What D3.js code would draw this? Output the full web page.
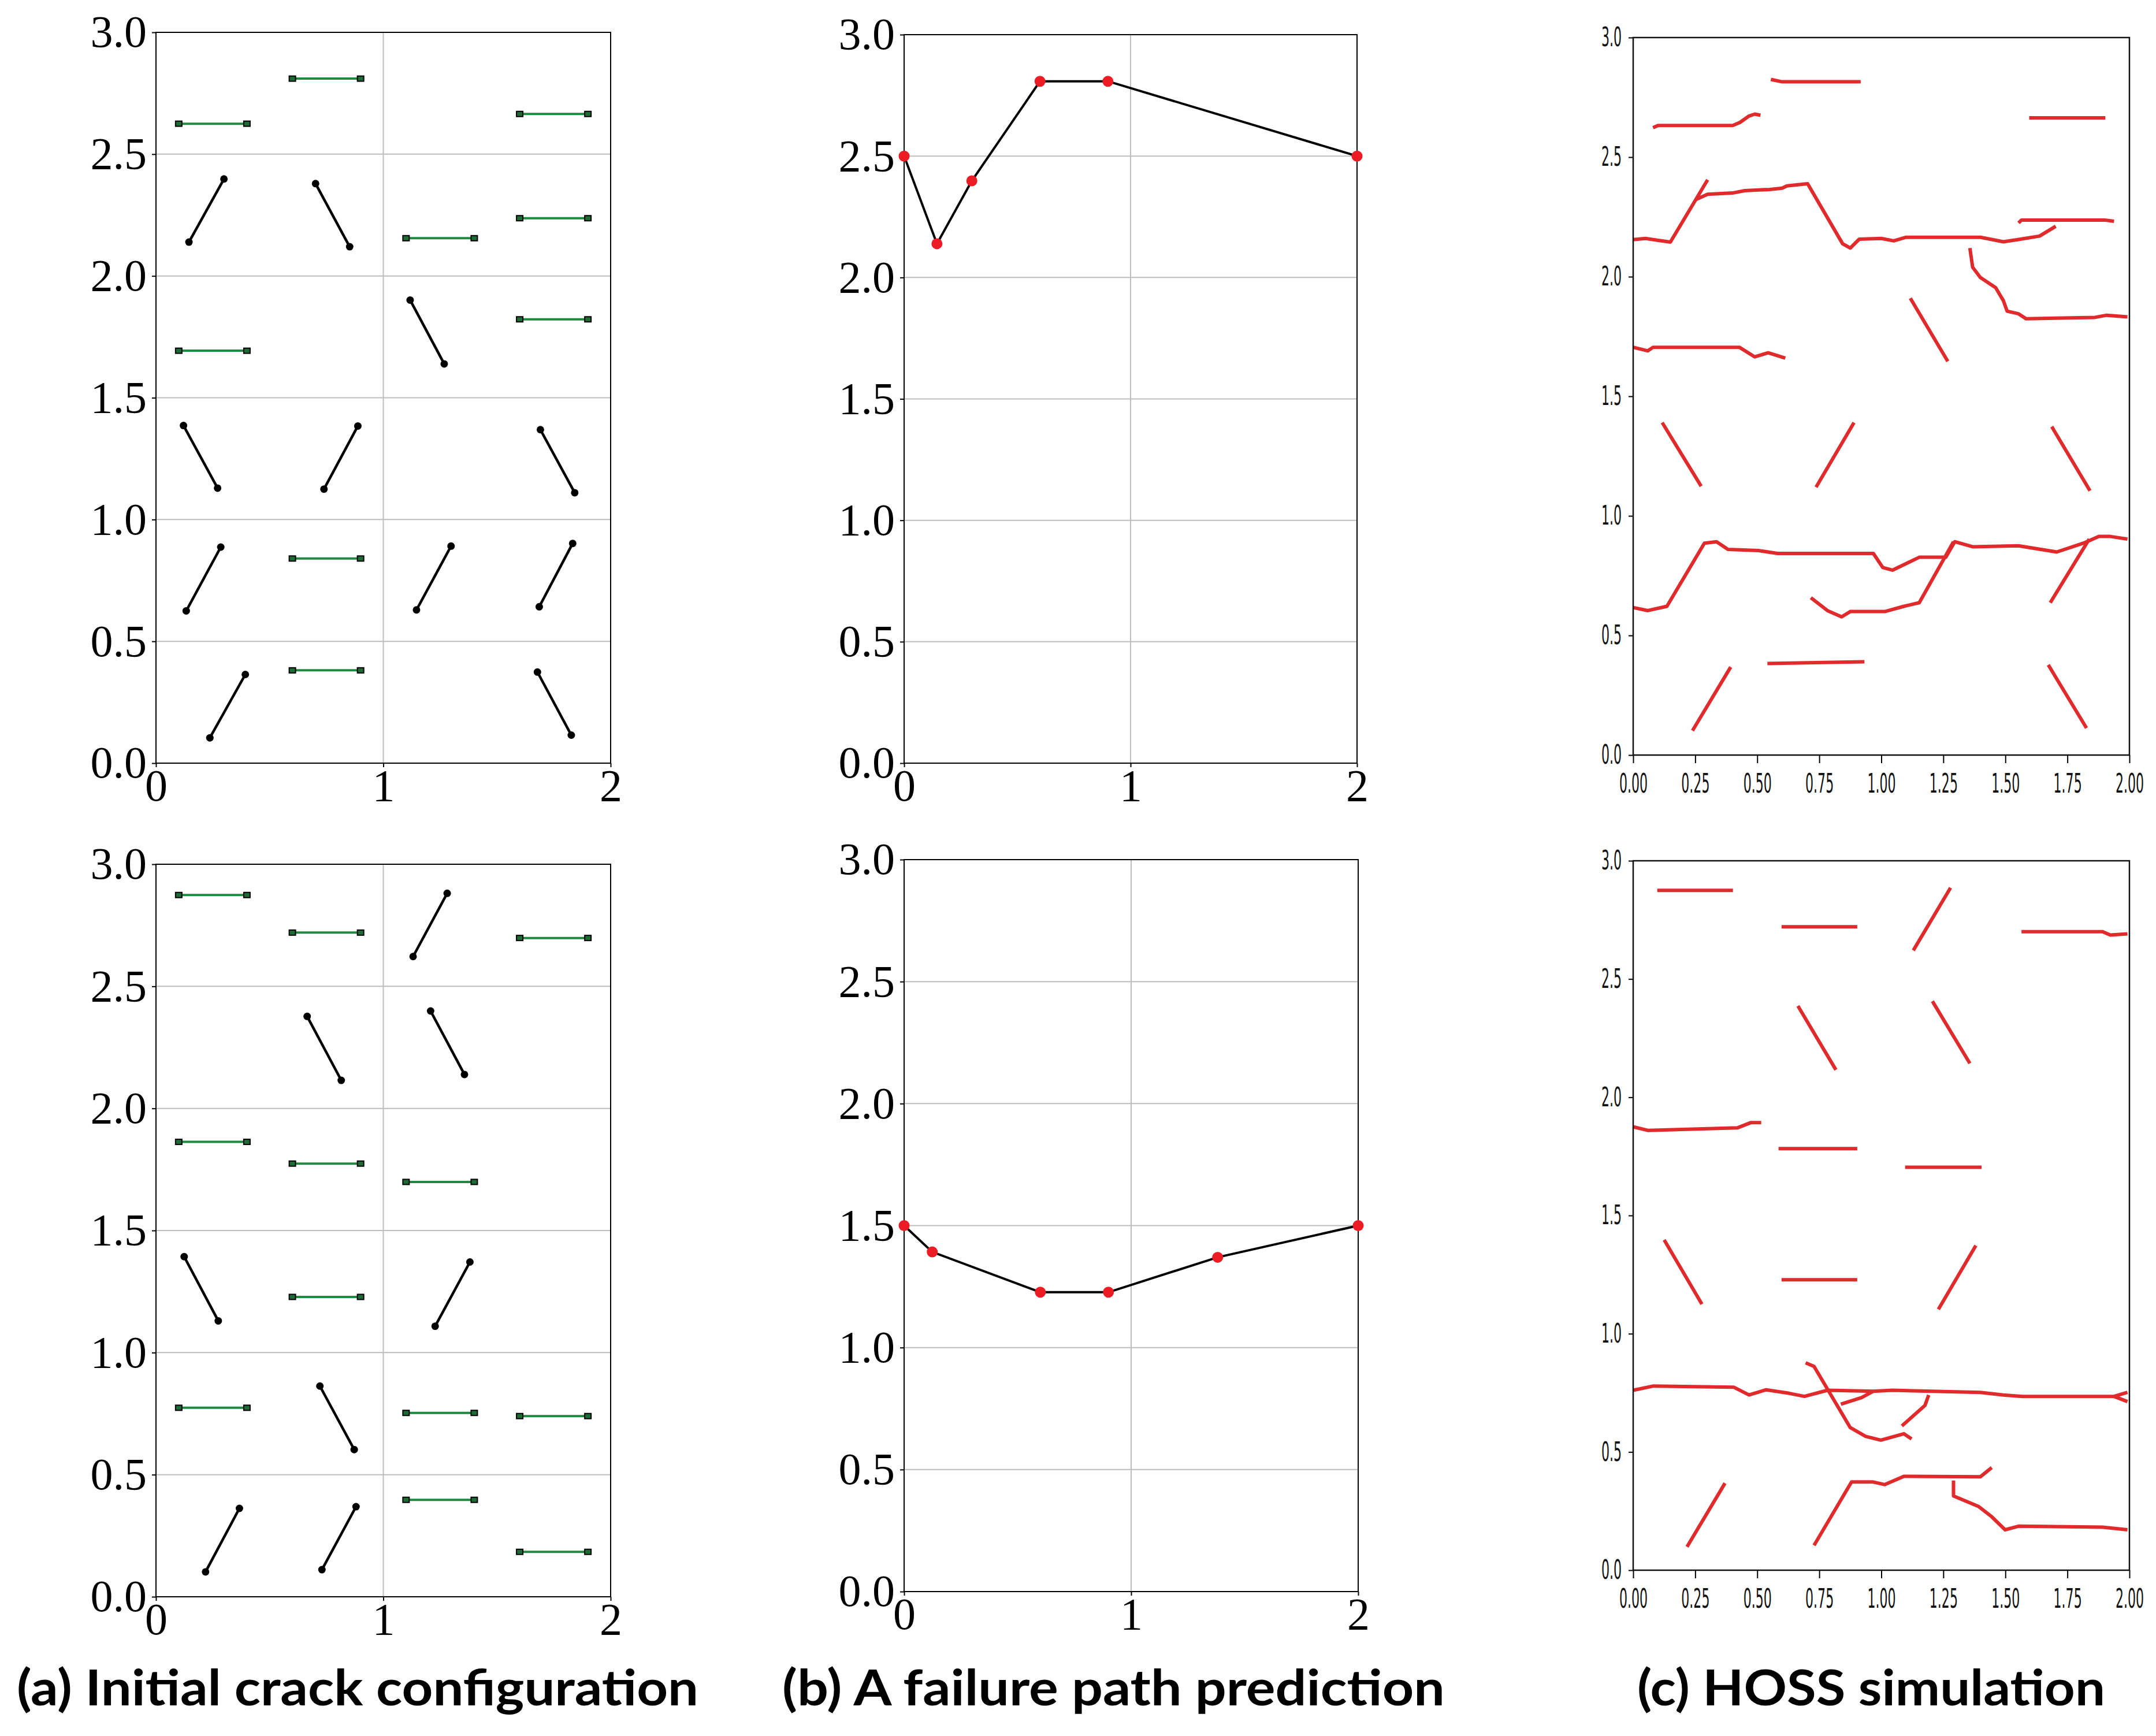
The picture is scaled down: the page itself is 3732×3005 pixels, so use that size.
<!DOCTYPE html>
<html>
<head>
<meta charset="utf-8">
<script src="https://cdn.jsdelivr.net/npm/d3@7"></script>
<style>
  body { margin: 0; background: #fff; }
</style>
</head>
<body>
<div id="content"></div>
<script>
var W = 3732, H = 3005;
var svg = d3.select('div#content').append('svg')
  .attr('width', W)
  .attr('height', H);
svg.append('rect').attr('width', W).attr('height', H).attr('fill', '#fff');

// ---- (a) crack configurations ----
// horizontal cracks: [x1, x2, y]
var flatTop = [
  [0.1, 0.4, 2.625], [0.6, 0.9, 2.81], [1.1, 1.4, 2.155], [1.6, 1.9, 2.665],
  [1.6, 1.9, 2.237], [1.6, 1.9, 1.822], [0.1, 0.4, 1.693], [0.6, 0.9, 0.84],
  [0.6, 0.9, 0.381]
];
// inclined cracks: [x1, y1, x2, y2]
var tiltTop = [
  [0.145, 2.139, 0.299, 2.398], [0.702, 2.379, 0.852, 2.12], [1.118, 1.901, 1.268, 1.639],
  [0.121, 1.386, 0.271, 1.129], [0.739, 1.125, 0.888, 1.384], [1.691, 1.369, 1.842, 1.11],
  [0.133, 0.625, 0.285, 0.887], [1.146, 0.629, 1.298, 0.891], [1.686, 0.642, 1.833, 0.902],
  [0.237, 0.104, 0.393, 0.364], [1.678, 0.374, 1.827, 0.115]
];
var flatBottom = [
  [0.1, 0.4, 2.874], [0.6, 0.9, 2.72], [1.6, 1.9, 2.698], [0.1, 0.4, 1.863],
  [0.6, 0.9, 1.774], [1.1, 1.4, 1.699], [0.6, 0.9, 1.228], [0.1, 0.4, 0.774],
  [1.1, 1.4, 0.753], [1.6, 1.9, 0.74], [1.1, 1.4, 0.397], [1.6, 1.9, 0.184]
];
var tiltBottom = [
  [1.131, 2.622, 1.281, 2.881], [0.665, 2.377, 0.815, 2.115], [1.208, 2.399, 1.357, 2.139],
  [0.124, 1.393, 0.274, 1.13], [1.228, 1.108, 1.381, 1.371], [0.721, 0.863, 0.872, 0.603],
  [0.218, 0.102, 0.367, 0.362], [0.73, 0.111, 0.88, 0.369]
];

// ---- (b) predicted failure paths: [x, y] ----
var pathTop = [[0, 2.5], [0.145, 2.139], [0.299, 2.398], [0.6, 2.808], [0.9, 2.808], [2, 2.5]];
var pathBottom = [[0, 1.5], [0.124, 1.392], [0.6, 1.227], [0.9, 1.227], [1.381, 1.37], [2, 1.5]];

// ---- (c) HOSS simulation traces ----
var hossTop = [
  [[0.555, 2.825], [0.6, 2.815], [0.917, 2.815]],
  [[0.08, 2.623], [0.1, 2.632], [0.401, 2.632], [0.43, 2.645], [0.467, 2.672], [0.49, 2.68], [0.513, 2.675]],
  [[1.596, 2.664], [1.903, 2.664]],
  [[0, 2.155], [0.05, 2.16], [0.1, 2.152], [0.15, 2.145], [0.3, 2.405]],
  [[0.251, 2.322], [0.3, 2.345], [0.4, 2.35], [0.45, 2.36], [0.55, 2.365], [0.6, 2.37], [0.62, 2.38],
   [0.703, 2.389], [0.844, 2.138], [0.875, 2.12], [0.911, 2.157], [1.0, 2.16], [1.05, 2.15],
   [1.1, 2.165], [1.4, 2.165], [1.492, 2.146], [1.55, 2.155], [1.638, 2.17], [1.703, 2.211]],
  [[1.553, 2.225], [1.565, 2.237], [1.9, 2.237], [1.938, 2.232]],
  [[1.357, 2.12], [1.368, 2.04], [1.399, 1.997], [1.461, 1.954], [1.492, 1.9], [1.507, 1.856],
   [1.553, 1.845], [1.584, 1.824], [1.861, 1.83], [1.908, 1.839], [1.992, 1.832]],
  [[1.117, 1.91], [1.268, 1.646]],
  [[0, 1.705], [0.059, 1.69], [0.08, 1.705], [0.428, 1.705], [0.49, 1.665], [0.544, 1.682], [0.613, 1.66]],
  [[0.117, 1.39], [0.274, 1.124]],
  [[0.737, 1.12], [0.89, 1.39]],
  [[1.687, 1.373], [1.841, 1.105]],
  [[0, 0.617], [0.059, 0.604], [0.136, 0.622], [0.287, 0.886], [0.336, 0.892], [0.382, 0.86],
   [0.505, 0.855], [0.582, 0.843], [0.968, 0.843], [1.006, 0.784], [1.045, 0.773], [1.153, 0.827],
   [1.26, 0.827], [1.296, 0.892], [1.368, 0.871], [1.553, 0.875], [1.707, 0.849], [1.815, 0.886],
   [1.877, 0.914], [1.923, 0.914], [1.992, 0.903]],
  [[0.716, 0.658], [0.783, 0.604], [0.84, 0.578], [0.875, 0.6], [1.014, 0.6], [1.091, 0.622],
   [1.153, 0.637], [1.291, 0.892]],
  [[1.681, 0.637], [1.838, 0.903]],
  [[0.541, 0.383], [0.932, 0.39]],
  [[0.239, 0.102], [0.393, 0.368]],
  [[1.673, 0.377], [1.827, 0.113]]
];
var hossBottom = [
  [[0.097, 2.875], [0.402, 2.875]],
  [[0.598, 2.721], [0.903, 2.721]],
  [[1.129, 2.621], [1.279, 2.886]],
  [[1.565, 2.7], [1.892, 2.7], [1.923, 2.686], [1.992, 2.691]],
  [[0.664, 2.386], [0.817, 2.116]],
  [[1.206, 2.406], [1.357, 2.143]],
  [[0, 1.875], [0.059, 1.86], [0.421, 1.871], [0.475, 1.893], [0.516, 1.893]],
  [[0.586, 1.783], [0.903, 1.783]],
  [[1.096, 1.704], [1.404, 1.704]],
  [[0.125, 1.397], [0.277, 1.125]],
  [[0.598, 1.228], [0.903, 1.228]],
  [[1.23, 1.103], [1.381, 1.373]],
  [[0, 0.761], [0.082, 0.779], [0.405, 0.774], [0.467, 0.741], [0.536, 0.763], [0.629, 0.748],
   [0.69, 0.735], [0.783, 0.761], [0.968, 0.757], [1.045, 0.761], [1.399, 0.752], [1.492, 0.741],
   [1.569, 0.735], [1.938, 0.735], [1.992, 0.752]],
  [[1.938, 0.735], [1.992, 0.713]],
  [[0.695, 0.877], [0.729, 0.862], [0.875, 0.603], [0.937, 0.566], [0.998, 0.55], [1.091, 0.577], [1.122, 0.555]],
  [[1.083, 0.61], [1.176, 0.697], [1.191, 0.741]],
  [[0.837, 0.702], [0.921, 0.73], [0.968, 0.757]],
  [[0.217, 0.099], [0.37, 0.368]],
  [[0.729, 0.105], [0.88, 0.373], [0.968, 0.373], [1.014, 0.362], [1.091, 0.397], [1.399, 0.395], [1.445, 0.434]],
  [[1.291, 0.379], [1.291, 0.314], [1.391, 0.27], [1.445, 0.226], [1.499, 0.171], [1.553, 0.186],
   [1.892, 0.182], [1.992, 0.171]]
];

// ticks
var abXTicks = [0, 1, 2];
var yTicks = [0, 0.5, 1, 1.5, 2, 2.5, 3];
var hossXTicks = [0, 0.25, 0.5, 0.75, 1, 1.25, 1.5, 1.75, 2];

var captions = ['(a) Initial crack configuration', '(b) A failure path prediction', '(c) HOSS simulation'];
var captionSpan = [[29, 1209], [1354, 2501], [2834, 3644]];

var serif = '"Liberation Serif", "DejaVu Serif", serif';
var sans = '"DejaVu Sans", sans-serif';
var squeeze = 0.48; // HOSS tick labels are horizontally squashed

var line = d3.line()
  .x(function(d){ return d.x; })
  .y(function(d){ return d.y; });

function makeScales(box){
  var x = d3.scaleLinear().domain([0, 2]).range([box.x0, box.x1]);
  var y = d3.scaleLinear().domain([0, 3]).range([box.y1, box.y0]);
  return {x: x, y: y};
}

// axes + frame for panels (a) and (b)
function serifFrame(g, box, s){
  // grid
  g.append('g').selectAll('line').data(abXTicks).enter().append('line')
    .attr('x1', function(d){ return s.x(d); }).attr('x2', function(d){ return s.x(d); })
    .attr('y1', box.y0).attr('y2', box.y1)
    .attr('stroke', '#bdbdbd').attr('stroke-width', 2);
  g.append('g').selectAll('line').data(yTicks).enter().append('line')
    .attr('y1', function(d){ return s.y(d); }).attr('y2', function(d){ return s.y(d); })
    .attr('x1', box.x0).attr('x2', box.x1)
    .attr('stroke', '#bdbdbd').attr('stroke-width', 2);

  var ax = g.append('g').attr('transform', 'translate(0,' + box.y1 + ')')
    .call(d3.axisBottom(s.x).tickValues(abXTicks).tickFormat(d3.format('d')).tickSizeOuter(0).tickSize(7).tickPadding(3));
  var ay = g.append('g').attr('transform', 'translate(' + box.x0 + ',0)')
    .call(d3.axisLeft(s.y).tickValues(yTicks).tickFormat(d3.format('.1f')).tickSizeOuter(0).tickSize(7).tickPadding(9));
  [ax, ay].forEach(function(a){
    a.select('.domain').remove();
    a.selectAll('line').attr('stroke', '#000').attr('stroke-width', 2);
    a.selectAll('text').attr('font-family', serif).attr('font-size', 78).attr('fill', '#000');
  });
  g.append('rect')
    .attr('x', box.x0).attr('y', box.y0)
    .attr('width', box.x1 - box.x0).attr('height', box.y1 - box.y0)
    .attr('fill', 'none').attr('stroke', '#000').attr('stroke-width', 2);
}

function crackPanel(box, flat, tilt){
  var g = svg.append('g');
  var s = makeScales(box);
  serifFrame(g, box, s);
  var mark = g.append('g');
  tilt.forEach(function(c){
    mark.append('path')
      .attr('d', line([{x: s.x(c[0]), y: s.y(c[1])}, {x: s.x(c[2]), y: s.y(c[3])}]))
      .attr('stroke', '#000').attr('stroke-width', 4.5).attr('fill', 'none');
    [[c[0], c[1]], [c[2], c[3]]].forEach(function(p){
      mark.append('circle').attr('cx', s.x(p[0])).attr('cy', s.y(p[1])).attr('r', 6.5).attr('fill', '#000');
    });
  });
  flat.forEach(function(c){
    mark.append('path')
      .attr('d', line([{x: s.x(c[0]), y: s.y(c[2])}, {x: s.x(c[1]), y: s.y(c[2])}]))
      .attr('stroke', '#1f8a3f').attr('stroke-width', 4).attr('fill', 'none');
    [c[0], c[1]].forEach(function(px){
      mark.append('rect')
        .attr('x', s.x(px) - 5.5).attr('y', s.y(c[2]) - 4.5)
        .attr('width', 11).attr('height', 9)
        .attr('fill', '#1d6b35').attr('stroke', '#000').attr('stroke-width', 2);
    });
  });
}

function pathPanel(box, pts){
  var g = svg.append('g');
  var s = makeScales(box);
  serifFrame(g, box, s);
  g.append('path')
    .attr('d', line(pts.map(function(p){ return {x: s.x(p[0]), y: s.y(p[1])}; })))
    .attr('stroke', '#000').attr('stroke-width', 4).attr('fill', 'none');
  g.append('g').selectAll('circle').data(pts).enter().append('circle')
    .attr('cx', function(d){ return s.x(d[0]); })
    .attr('cy', function(d){ return s.y(d[1]); })
    .attr('r', 9.5)
    .attr('fill', '#ec1c24');
}

function hossPanel(box, traces){
  var g = svg.append('g');
  var s = makeScales(box);
  g.append('g').selectAll('path').data(traces).enter().append('path')
    .attr('d', function(t){ return line(t.map(function(p){ return {x: s.x(p[0]), y: s.y(p[1])}; })); })
    .attr('stroke', '#e02a2c').attr('stroke-width', 6).attr('fill', 'none')
    .attr('stroke-linejoin', 'round').attr('stroke-linecap', 'butt');
  var ax = g.append('g').attr('transform', 'translate(0,' + box.y1 + ')')
    .call(d3.axisBottom(s.x).tickValues(hossXTicks).tickFormat(d3.format('.2f')).tickSizeOuter(0).tickSize(14).tickPadding(18));
  var ay = g.append('g').attr('transform', 'translate(' + box.x0 + ',0)')
    .call(d3.axisLeft(s.y).tickValues(yTicks).tickFormat(d3.format('.1f')).tickSizeOuter(0).tickSize(8).tickPadding(12));
  [ax, ay].forEach(function(a){
    a.select('.domain').remove();
    a.selectAll('line').attr('stroke', '#000').attr('stroke-width', 2);
    a.selectAll('text').attr('font-family', sans).attr('font-size', 46).attr('fill', '#111')
      .attr('transform', 'scale(' + squeeze + ',1)');
  });
  // left labels: undo the squeeze on their x offset
  ay.selectAll('text').attr('x', -(8 + 12) / squeeze);
  g.append('rect')
    .attr('x', box.x0).attr('y', box.y0)
    .attr('width', box.x1 - box.x0).attr('height', box.y1 - box.y0)
    .attr('fill', 'none').attr('stroke', '#111').attr('stroke-width', 2.5);
}

crackPanel({x0: 270, x1: 1057, y0: 56, y1: 1321}, flatTop, tiltTop);
crackPanel({x0: 270, x1: 1057, y0: 1496, y1: 2764}, flatBottom, tiltBottom);
pathPanel({x0: 1565, x1: 2349, y0: 60, y1: 1321}, pathTop);
pathPanel({x0: 1565, x1: 2351, y0: 1488, y1: 2755}, pathBottom);
hossPanel({x0: 2827, x1: 3686, y0: 65, y1: 1307}, hossTop);
hossPanel({x0: 2827, x1: 3686, y0: 1490, y1: 2718}, hossBottom);

// captions
captions.forEach(function(t, i){
  svg.append('text')
    .attr('x', captionSpan[i][0]).attr('y', 2952)
    .attr('font-family', 'Lato, "Open Sans", sans-serif')
    .attr('font-weight', 700)
    .attr('font-size', 86)
    .attr('fill', '#000')
    .attr('textLength', captionSpan[i][1] - captionSpan[i][0])
    .attr('lengthAdjust', 'spacingAndGlyphs')
    .text(t);
});
</script>
</body>
</html>
